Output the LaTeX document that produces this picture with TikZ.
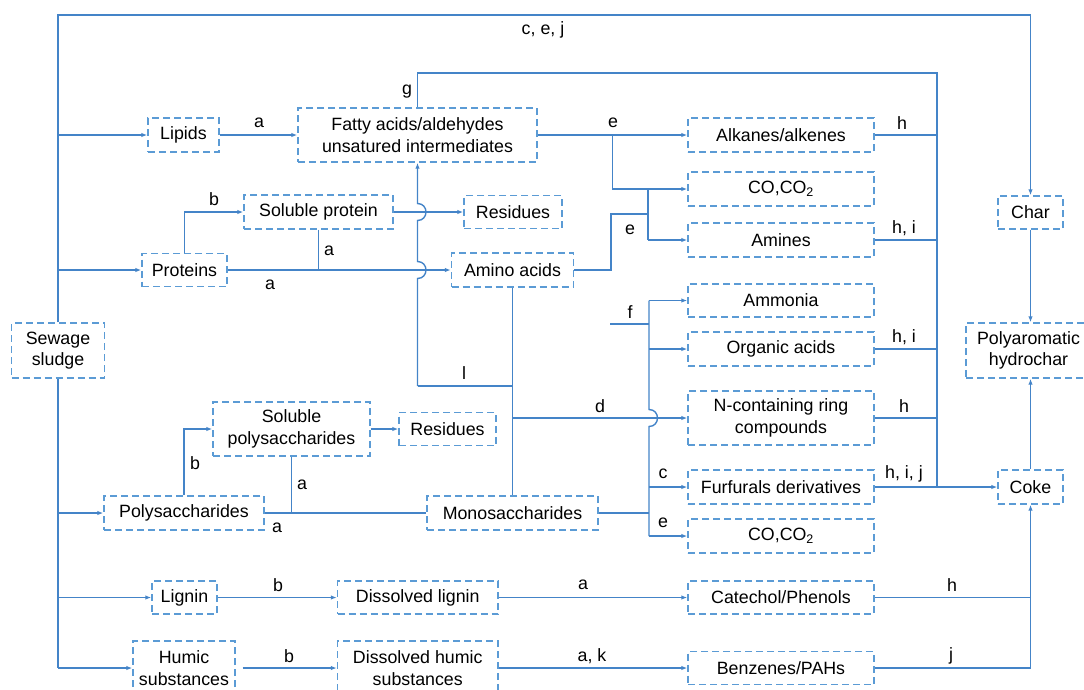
\documentclass[tikz,border=0pt]{standalone}
\usepackage{fontspec}
\setmainfont{Liberation Sans}
\usetikzlibrary{arrows.meta}
\definecolor{lncol}{RGB}{68,132,200}
\definecolor{bxcol}{RGB}{91,155,213}
\newcommand\mybox[6]{\node[box, minimum width=#4pt, minimum height=#5pt] (#1) at (#2,#3) {#6};}
\begin{document}
\begin{tikzpicture}[x=1pt,y=-1pt, font=\fontsize{17.8}{21.5}\selectfont,
  box/.style={draw=bxcol, line width=1.4pt, dash pattern=on 7pt off 4pt, align=center, inner sep=0pt},
  ln/.style={draw=lncol, line width=1.4pt},
  arr/.style={ln, -{Latex[length=6pt,width=4.5pt]}},
  lab/.style={inner sep=0pt}]
\useasboundingbox (0,0) rectangle (1084,689);
% boxes
\mybox{sewage}{58}{350.5}{93}{55}{Sewage\\sludge}
\mybox{lipids}{183.5}{135}{71}{34}{Lipids}
\mybox{fatty}{417.5}{135}{239}{54}{Fatty acids/aldehydes\\unsatured intermediates}
\mybox{solprot}{318.5}{212}{149}{34}{Soluble protein}
\mybox{resa}{513}{212}{98}{33}{Residues}
\mybox{proteins}{184.5}{270}{85}{33}{Proteins}
\mybox{amino}{512.5}{270}{122}{34}{Amino acids}
\mybox{alkanes}{781}{135}{186}{34}{Alkanes/alkenes}
\mybox{coa}{781}{189}{186}{34}{CO,CO\textsubscript{2}}
\mybox{amines}{781}{240}{186}{34}{Amines}
\mybox{ammonia}{781}{300.5}{186}{33}{Ammonia}
\mybox{organic}{781}{349}{186}{34}{Organic acids}
\mybox{ncont}{781}{418}{186}{54}{N-containing ring\\compounds}
\mybox{furf}{781}{487}{186}{34}{Furfurals derivatives}
\mybox{cob}{781}{536}{186}{34}{CO,CO\textsubscript{2}}
\mybox{catechol}{781}{597.5}{186}{33}{Catechol/Phenols}
\mybox{benz}{781}{668}{186}{33}{Benzenes/PAHs}
\mybox{char}{1030.5}{212.5}{65}{33}{Char}
\mybox{poly}{1028.5}{350.5}{125}{55}{Polyaromatic\\hydrochar}
\mybox{coke}{1030.5}{487}{65}{34}{Coke}
\mybox{solpoly}{291.5}{429}{157}{54}{Soluble\\polysaccharides}
\mybox{resb}{447.5}{429}{97}{33}{Residues}
\mybox{polysacc}{184}{513}{160}{34}{Polysaccharides}
\mybox{mono}{512.5}{513}{171}{34}{Monosaccharides}
\mybox{lignin}{184.5}{597.5}{65}{33}{Lignin}
\mybox{dlignin}{417.75}{597.5}{160.5}{33}{Dissolved lignin}
\mybox{humic}{184}{668}{102}{54}{Humic\\substances}
\mybox{dhumic}{417.75}{668}{160.5}{54}{Dissolved humic\\substances}
% helper coordinates
\coordinate (tr) at (58,0);
\coordinate (top) at (58,15);
\coordinate (g1) at (417.5,73);
\coordinate (cx) at (937,73);
\coordinate (lj) at (417.5,386);
\coordinate (dj) at (512.5,418);
\coordinate (eb) at (612.5,135);
\coordinate (am1) at (611,214);
\coordinate (v1) at (648,0);
\coordinate (v2) at (649,0);
\coordinate (fj) at (610,324);
% trunk
\draw[arr] (sewage.north) -- (top) -| (char.north);
\node[lab] at (543,30) {c, e, j};
\draw[ln] (sewage.south) -- (sewage.south |- humic.west);
\foreach \n in {lipids,proteins,polysacc,lignin,humic}
  \draw[arr] (\n.west -| tr) -- (\n.west);
% lipids
\draw[arr] (lipids.east) -- (fatty.west);
\node[lab] at (259,123) {a};
\draw[ln] (fatty.north) -- (g1) -- (cx) -- (cx |- furf.east);
\node[lab] at (407,92) {g};
% proteins
\draw[arr] (proteins.north) |- (solprot.west);
\node[lab] at (214,199) {b};
\draw[arr] (proteins.east) -- (amino.west);
\node[lab] at (270,285) {a};
\draw[ln] (solprot.south) -- (solprot.south |- proteins.east);
\node[lab] at (329,251) {a};
\draw[arr] (solprot.east) -- (resa.west);
% vertical with hops
\draw[arr] (lj) -- (417.5,278.5) .. controls (428.8,278.5) and (428.8,261.5) .. (417.5,261.5)
  -- (417.5,220.5) .. controls (428.8,220.5) and (428.8,203.5) .. (417.5,203.5) -- (fatty.south);
\draw[ln] (lj) -- (lj -| amino.south);
\node[lab] at (464,373) {l};
\draw[ln] (amino.south) -- (mono.north);
\draw[arr] (dj) -- (ncont.west);
\node[lab] at (600,406) {d};
% fatty to alkanes etc
\draw[arr] (fatty.east) -- (alkanes.west);
\node[lab] at (613,123) {e};
\draw[arr] (eb) |- (coa.west);
\draw[ln] (amino.east) -| (am1) -- (am1 -| v1);
\draw[ln] (coa.west -| v1) -- (amines.west -| v1);
\draw[arr] (amines.west -| v1) -- (amines.west);
\node[lab] at (630,230) {e};
% ammonia group
\draw[ln] (fj) -- (fj -| v2);
\node[lab] at (630,312) {f};
\draw[ln] (ammonia.west -| v2) -- (649,409.5) .. controls (660.3,409.5) and (660.3,426.5) .. (649,426.5) -- (cob.west -| v2);
\foreach \n in {ammonia,organic,furf,cob}
  \draw[arr] (\n.west -| v2) -- (\n.west);
\node[lab] at (663,474) {c};
\node[lab] at (663,523) {e};
\draw[ln] (mono.east) -- (mono.east -| v2);
% collectors
\foreach \n in {alkanes,amines,organic,ncont}
  \draw[ln] (\n.east) -- (\n.east -| cx);
\draw[arr] (furf.east) -- (coke.west);
\node[lab] at (902,123) {h};
\node[lab] at (904,228) {h, i};
\node[lab] at (904,337) {h, i};
\node[lab] at (904,406) {h};
\node[lab] at (904,474) {h, i, j};
% right column
\draw[arr] (char.south) -- (char.south |- poly.north);
\draw[arr] (coke.north) -- (coke.north |- poly.south);
\draw[ln] (catechol.east) -- (catechol.east -| coke.south);
\draw[arr] (benz.east) -| (coke.south);
\node[lab] at (952,585) {h};
\node[lab] at (951,656) {j};
% lignin, humic
\draw[arr] (lignin.east) -- (dlignin.west);
\node[lab] at (278,585) {b};
\draw[arr] (dlignin.east) -- (catechol.west);
\node[lab] at (583,585) {a};
\draw[arr] ([xshift=7pt]humic.east) -- (dhumic.west);
\node[lab] at (289,656) {b};
\draw[arr] (dhumic.east) -- (benz.west);
\node[lab] at (592,656) {a, k};
% polysaccharides
\draw[arr] (polysacc.north) |- (solpoly.west);
\node[lab] at (195,463) {b};
\draw[arr] (solpoly.east) -- (resb.west);
\draw[ln] (solpoly.south) -- (solpoly.south |- polysacc.east);
\node[lab] at (302,485) {a};
\draw[ln] (polysacc.east) -- (mono.west);
\node[lab] at (277,528) {a};
\end{tikzpicture}
\end{document}
